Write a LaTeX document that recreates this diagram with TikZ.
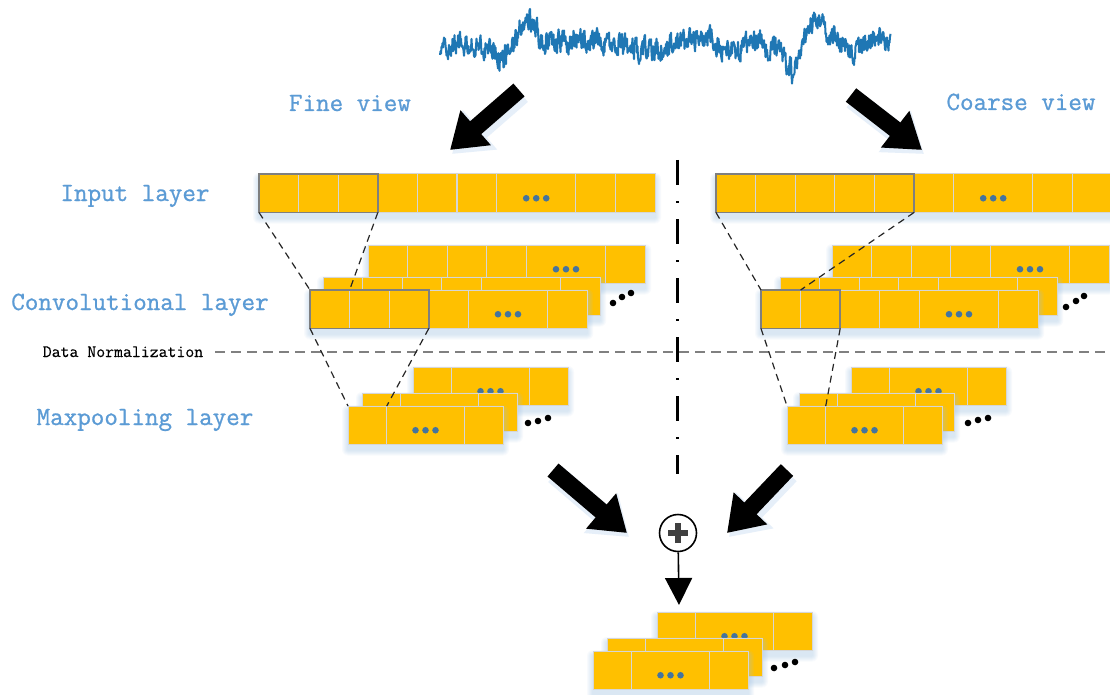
\documentclass[tikz,border=0pt]{standalone}
\usepackage{fontspec}
\newfontfamily\labelfont{Latin Modern Mono}[FakeBold=0.9]
\newfontfamily\notefont{Latin Modern Mono}[FakeBold=0.3]
\usetikzlibrary{arrows.meta}

\definecolor{gold}{HTML}{FFC000}
\definecolor{cellsepc}{HTML}{D6D6D6}
\definecolor{hlgray}{HTML}{7F7F7F}
\definecolor{dotblue}{HTML}{44749E}
\definecolor{labelblue}{HTML}{5B9BD5}
\definecolor{sigblue}{HTML}{1F77B4}
\definecolor{glow}{HTML}{9DC3E6}
\definecolor{glowlight}{HTML}{E6EFF9}
\definecolor{plusgray}{HTML}{404040}

\tikzset{
  cellrow/.style={rectangle, fill=gold, draw=cellsepc, line width=1pt,
    inner sep=0pt, outer sep=0pt, minimum height=38.5pt},
  cellsep/.style={draw=cellsepc, line width=1.2pt},
  framebox/.style={rectangle, draw=hlgray, line width=1.6pt, inner sep=0pt,
    outer sep=0pt, minimum height=38.5pt},
  proj/.style={draw=black!85, line width=1.2pt, dash pattern=on 7pt off 5pt},
  normline/.style={draw=gray, line width=1.5pt, dash pattern=on 10pt off 6pt},
  splitline/.style={draw=black, line width=3pt,
    dash pattern=on 25pt off 16pt on 2pt off 16pt},
  bigarrow/.style={draw=black, line width=17pt, -{Triangle[length=34pt,width=44pt]}},
  arrowglow/.style={draw=glowlight, line width=21pt, -{Triangle[length=37pt,width=50pt]}},
  thinarrow/.style={draw=black, line width=1.6pt, -{Triangle[length=27pt,width=27pt]}},
  sumnode/.style={circle, draw=black, line width=1.6pt, fill=white,
    minimum size=37pt, inner sep=0pt},
  plusbar/.style={draw=plusgray, line width=6.5pt},
  layerlabel/.style={font=\labelfont\fontsize{26.3}{30}\selectfont,
    text=labelblue, anchor=base, inner sep=0pt},
  normlabel/.style={font=\notefont\fontsize{17.3}{20}\selectfont,
    text=black, anchor=base, inner sep=0pt},
  signal/.style={draw=sigblue, line width=2pt, line join=round},
  stackdot/.style={fill=black},
}

% A row of cells: name, left, top, number of units, unit width,
% divider positions (in units), centre of the cell holding the dots (in units)
\newcommand\celllayer[7]{%
  \pgfmathsetmacro\lyw{#4*#5}%
  \foreach \k in {1,...,6}{%
    \fill[glow, opacity=0.07, rounded corners=\k pt]
      ({#2-\k},{#3+5-\k}) rectangle ({#2+\lyw+\k},{#3+43.5+\k});
  }%
  \node[cellrow, minimum width=\lyw pt, anchor=north west] (#1) at (#2,#3) {};
  \foreach \d in {#6}{\draw[cellsep] ({#2+\d*#5},#3) -- ++(0,38.5);}
  \foreach \o in {-10,0,10}{\fill[dotblue] ({#2+#7*#5+\o},{#3+24.25}) circle[radius=3.3pt];}
}
% Frame round the cells covered by a filter: name, left, top, width
\newcommand\framecells[4]{%
  \node[framebox, minimum width=#4 pt, anchor=north west] (#1) at (#2,#3) {};
}

\begin{document}
\begin{tikzpicture}[x=1pt,y=-1pt]
\clip (0,0) rectangle (1110,695);
\fill[white] (0,0) rectangle (1110,695);

% ---- time series ----
\def\sig{}
\pgfmathsetseed{11}
\xdef\nz{0}
\foreach \xa/\ya/\xb/\yb in {440/48/455/42, 455/42/470/43, 470/43/490/50,
  490/50/503/62, 503/62/515/40, 515/40/527/14, 527/14/540/38, 540/38/553/43,
  553/43/570/40, 570/40/587/41, 587/41/600/44, 600/44/620/45, 620/45/640/49,
  640/49/660/51, 660/51/680/45, 680/45/700/38, 700/38/707/34, 707/34/720/46,
  720/46/733/54, 733/54/745/43, 745/43/753/38, 753/38/765/46, 765/46/780/51,
  780/51/793/75, 793/75/800/55, 800/55/813/22, 813/22/825/30, 825/30/837/38,
  837/38/853/54, 853/54/862/46, 862/46/873/36, 873/36/882/42, 882/42/891/42}{%
  \pgfmathtruncatemacro\nsteps{2*(\xb-\xa)-1}%
  \foreach \t in {0,...,\nsteps}{%
    \pgfmathsetmacro\xx{\xa+\t/2}%
    \pgfmathsetmacro\nn{0.45*\nz+10.5*rand}%
    \xdef\nz{\nn}%
    \pgfmathsetmacro\yy{\ya+(\yb-\ya)*\t/(2*(\xb-\xa))+\nn}%
    \xdef\sig{\sig(\xx,\yy) }%
  }%
}
\edef\drawsig{\noexpand\draw[signal] plot coordinates {\sig};}
\drawsig

% ---- view arrows ----
\coordinate (fineA) at (519,90);   \coordinate (fineB) at (450,150);
\coordinate (coarseA) at (851,95); \coordinate (coarseB) at (922,150);
\coordinate (mergeLA) at (553,470); \coordinate (mergeLB) at (627,533);
\coordinate (mergeRA) at (787,470); \coordinate (mergeRB) at (727,533);
\foreach \a/\b in {fineA/fineB, coarseA/coarseB, mergeLA/mergeLB, mergeRA/mergeRB}{
  \draw[arrowglow] ([shift={(2,4)}]\a) -- ([shift={(2,4)}]\b);
  \draw[bigarrow] (\a) -- (\b);
}

% ---- labels ----
\node[layerlabel] (lblFine) at (350,111) {Fine view};
\node[layerlabel] (lblCoarse) at (1021,110) {Coarse view};
\node[layerlabel] (lblIn) at (135,201) {Input layer};
\node[layerlabel] (lblConv) at (140,310) {Convolutional layer};
\node[layerlabel] (lblPool) at (145,425) {Maxpooling layer};
\node[normlabel] (lblNorm) at (123,357) {Data Normalization};

% ---- normalization boundary ----
\coordinate (normA) at (215,352);
\coordinate (normB) at (1110,352);
\draw[normline] (normA) -- (normB);

% ---- input layers ----
\celllayer{inL}{259}{174}{10}{39.6}{1,2,3,4,5,6,8,9}{7}
\celllayer{inR}{716}{174}{10}{39.6}{1,2,3,4,5,6,8,9}{7}

% ---- convolutional feature maps ----
\celllayer{cvLb}{368}{245}{7}{39.6}{1,2,3,4,6}{5}
\celllayer{cvLm}{323}{277}{7}{39.6}{1,2,3,4,6}{5}
\celllayer{cvLf}{310}{290}{7}{39.6}{1,2,3,4,6}{5}
\celllayer{cvRb}{832}{245}{7}{39.6}{1,2,3,4,6}{5}
\celllayer{cvRm}{780}{277}{7}{39.6}{1,2,3,4,6}{5}
\celllayer{cvRf}{761}{290}{7}{39.6}{1,2,3,4,6}{5}

% ---- max-pooling maps ----
\celllayer{mpLb}{413}{367}{4}{38.75}{1,3}{2}
\celllayer{mpLm}{362}{393}{4}{38.75}{1,3}{2}
\celllayer{mpLf}{348}{406}{4}{38.75}{1,3}{2}
\celllayer{mpRb}{851}{367}{4}{38.75}{1,3}{2}
\celllayer{mpRm}{799}{393}{4}{38.75}{1,3}{2}
\celllayer{mpRf}{787}{406}{4}{38.75}{1,3}{2}

% ---- merged output ----
\celllayer{outb}{657}{612}{4}{38.75}{1,3}{2}
\celllayer{outm}{607}{638}{4}{38.75}{1,3}{2}
\celllayer{outf}{593}{651}{4}{38.75}{1,3}{2}

% ---- further maps ----
\foreach \x/\y in {613/303, 622/297, 631/293, 1066/307, 1076/301, 1084/296,
  528/423, 538/421, 548/418, 968/423, 978/420, 988/418,
  774/668, 785/665, 795/662}{
  \fill[stackdot] (\x,\y) circle[radius=3.3pt];
}

% ---- filter windows ----
\framecells{hInL}{259}{174}{118.8}
\framecells{hInR}{716}{174}{198}
\framecells{hCvL}{310}{290}{118.8}
\framecells{hCvR}{761}{290}{79.2}

\draw[proj] (hInL.south west) -- (cvLf.north west);
\draw[proj] (hInL.south east) -- ([xshift=39.6pt]cvLf.north west);
\draw[proj] (hCvL.south west) -- (mpLf.north west);
\draw[proj] (hCvL.south east) -- ([xshift=38.75pt]mpLf.north west);
\draw[proj] (hInR.south west) -- (cvRf.north west);
\draw[proj] (hInR.south east) -- ([xshift=39.6pt]cvRf.north west);
\draw[proj] (hCvR.south west) -- (mpRf.north west);
\draw[proj] (hCvR.south east) -- ([xshift=38.75pt]mpRf.north west);

% ---- split between the two views ----
\coordinate (splitTop) at (677,160);
\coordinate (splitBot) at (677,474);
\draw[splitline] (splitTop) -- (splitBot);

% ---- fusion ----
\node[sumnode] (sum) at (678,533) {};
\draw[plusbar] ([xshift=-10pt]sum.center) -- ([xshift=10pt]sum.center);
\draw[plusbar] ([yshift=-10pt]sum.center) -- ([yshift=10pt]sum.center);
\coordinate (outTip) at (679,605);
\draw[thinarrow] (sum) -- (outTip);

\end{tikzpicture}
\end{document}
